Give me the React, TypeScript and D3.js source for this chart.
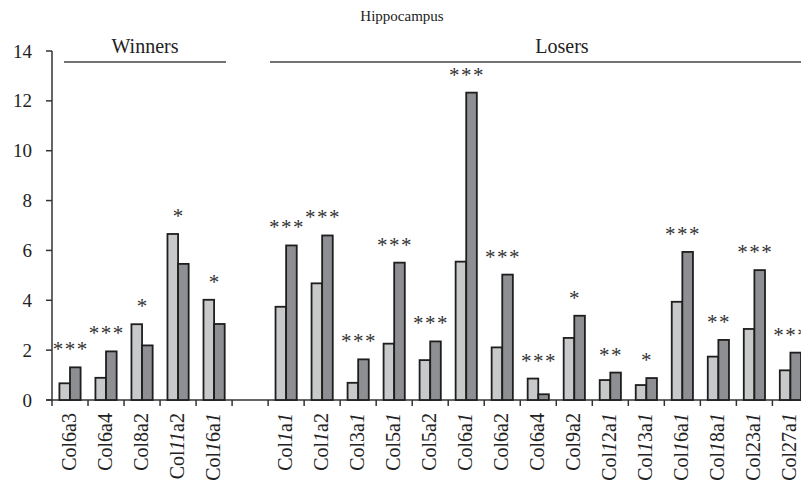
import React from "react";
import * as d3 from "d3";

const winners = ["Col6a3", "Col6a4", "Col8a2", "Col11a2", "Col16a1"];
const losers = ["Col1a1", "Col1a2", "Col3a1", "Col5a1", "Col5a2", "Col6a1", "Col6a2", "Col6a4", "Col9a2", "Col12a1", "Col13a1", "Col16a1", "Col18a1", "Col23a1", "Col27a1"];
const winnersLight = [0.67, 0.89, 3.04, 6.66, 4.02];
const winnersDark = [1.31, 1.95, 2.19, 5.46, 3.05];
const losersLight = [3.74, 4.68, 0.69, 2.26, 1.6, 5.55, 2.11, 0.86, 2.49, 0.8, 0.6, 3.94, 1.74, 2.85, 1.19];
const losersDark = [6.2, 6.6, 1.63, 5.51, 2.35, 12.33, 5.03, 0.23, 3.38, 1.1, 0.88, 5.94, 2.41, 5.21, 1.9];
const winnersStars = [3, 3, 1, 1, 1];
const losersStars = [3, 3, 3, 3, 3, 3, 3, 3, 1, 2, 1, 3, 2, 3, 3];
const yTicks = [0, 2, 4, 6, 8, 10, 12, 14];

type Row = { key: string; label: string; light: number; dark: number; stars: number };

const rows: Row[] = [
  ...winners.map((c, i) => ({ key: "w" + i, label: c, light: winnersLight[i], dark: winnersDark[i], stars: winnersStars[i] })),
  { key: "gap", label: "", light: NaN, dark: NaN, stars: 0 },
  ...losers.map((c, i) => ({ key: "l" + i, label: c, light: losersLight[i], dark: losersDark[i], stars: losersStars[i] })),
];

const FONT = "Liberation Serif, DejaVu Serif, serif";
const fs = (size: number) => ({ fontFamily: FONT, fontSize: size + "px" });

function Label({ text }: { text: string }) {
  const parts = text.match(/1+|[^1]+/g) || [];
  return (
    <>
      {parts.map((p, i) => (
        <tspan key={i} style={{ fontStyle: p[0] === "1" ? "italic" : "normal" }}>{p}</tspan>
      ))}
    </>
  );
}

export default function App() {
  const W = 801, H = 483;
  const x0 = 52;
  const step = 36.02;
  const x = d3.scaleBand<string>().domain(rows.map(r => r.key)).range([x0, x0 + step * rows.length]).paddingInner(0).paddingOuter(0);
  const y = d3.scaleLinear().domain([0, 14]).range([400, 51]);
  const barW = 10.6;
  const bw = x.bandwidth();
  const axisColor = "#333";
  const strokeColor = "#1e1e1e";

  return (
    <svg width={W} height={H} style={{ position: "absolute", left: 0, top: 0, display: "block", fontFamily: FONT }}>
      <text x={402} y={21} textAnchor="middle" style={fs(15)} fill="#222">Hippocampus</text>
      <text x={145} y={53} textAnchor="middle" style={fs(20)} fill="#222">Winners</text>
      <line x1={64} x2={226} y1={62} y2={62} stroke="#444" strokeWidth={1.5} />
      <text x={562} y={53} textAnchor="middle" style={fs(20)} fill="#222">Losers</text>
      <line x1={270} x2={801} y1={62} y2={62} stroke="#444" strokeWidth={1.5} />

      <line x1={x0} x2={x0} y1={y(14)} y2={406} stroke={axisColor} strokeWidth={1.5} />
      {yTicks.map(t => (
        <g key={t}>
          <line x1={46} x2={x0} y1={y(t)} y2={y(t)} stroke={axisColor} strokeWidth={1.5} />
          <text x={32} y={y(t) + 6.5} textAnchor="end" style={fs(19)} fill="#222">{t}</text>
        </g>
      ))}
      <line x1={46} x2={W} y1={y(0)} y2={y(0)} stroke={axisColor} strokeWidth={1.5} />
      {rows.map((r, i) => (
        <line key={"t" + i} x1={x(r.key)! + bw} x2={x(r.key)! + bw} y1={y(0)} y2={406} stroke={axisColor} strokeWidth={1.5} />
      ))}

      {rows.filter(r => !isNaN(r.light)).map(r => {
        const cx = x(r.key)! + bw / 2;
        const top = Math.min(y(r.light), y(r.dark));
        const offs = r.stars === 3 ? [-12, 0, 12] : r.stars === 2 ? [-6, 6] : [0];
        return (
          <g key={r.key}>
            <rect x={cx - barW} y={y(r.light)} width={barW} height={y(0) - y(r.light)} fill="#c8c9cb" stroke={strokeColor} strokeWidth={1.8} />
            <rect x={cx} y={y(r.dark)} width={barW} height={y(0) - y(r.dark)} fill="#8e8f93" stroke={strokeColor} strokeWidth={1.8} />
            {offs.map((o, k) => (
              <text key={k} x={cx + o} y={top - 21 + 10} textAnchor="middle" style={fs(21)} fill="#333">*</text>
            ))}
            <text transform={`translate(${cx + 6},413) rotate(-90)`} textAnchor="end" style={fs(20)} fill="#222">
              <Label text={r.label} />
            </text>
          </g>
        );
      })}
    </svg>
  );
}
